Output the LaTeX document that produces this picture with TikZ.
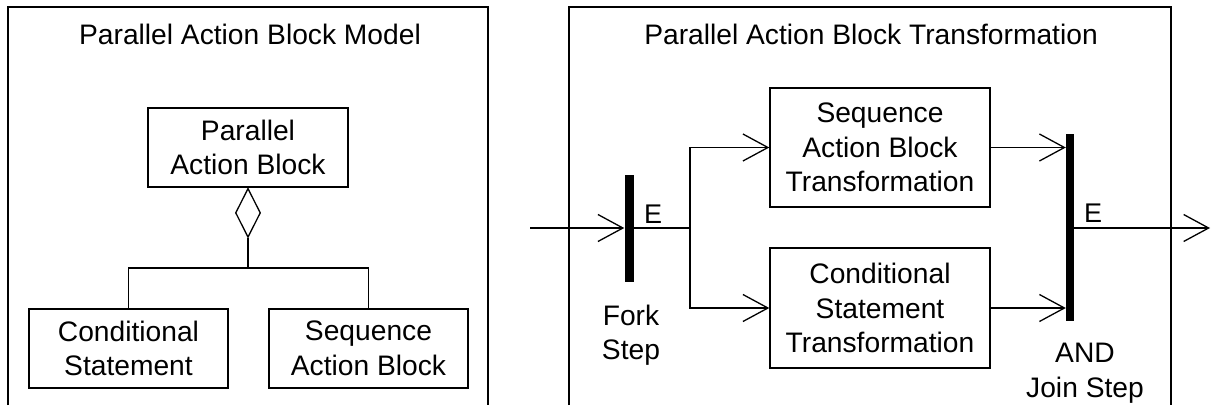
\documentclass[tikz,border=0pt]{standalone}
\usepackage{fontspec}
\setmainfont{Liberation Sans}
\usetikzlibrary{arrows.meta,shapes.geometric}
\tikzset{
  txt/.style={font=\fontsize{28.2}{34.5}\selectfont, align=center, text=black},
  box/.style={draw, line width=1.4pt, inner sep=0pt, txt},
  frame/.style={draw, line width=1.4pt},
  conn/.style={line width=1.3pt},
  arr/.style={conn, -{Straight Barb[length=25pt,width=27pt]}},
  bar/.style={fill=black, inner sep=0pt},
  elabel/.style={font=\fontsize{27}{30}\selectfont, text=black},
}
\begin{document}
\begin{tikzpicture}[x=1pt,y=-1pt]
\useasboundingbox (0,0) rectangle (1211,405);
% frames
\draw[frame] (8,405) -- (8,7) -- (488,7) -- (488,405);
\draw[frame] (569,405) -- (569,7) -- (1171,7) -- (1171,405);
\node[txt] (t1) at (250,34) {Parallel Action Block Model};
\node[txt] (t2) at (871,34) {Parallel Action Block Transformation};
% left model
\node[box, minimum width=200pt, minimum height=79pt] (pab) at (248,147.5) {Parallel\\Action Block};
\node[draw, diamond, line width=1.3pt, aspect=0.5, minimum width=25pt, minimum height=49pt, inner sep=0pt, anchor=north] (dia) at (pab.south) {};
\node[box, minimum width=199pt, minimum height=79pt] (cond) at (128.5,348.5) {Conditional\\Statement};
\node[box, minimum width=199pt, minimum height=79pt] (seq) at (368.5,348.5) {Sequence\\Action Block};
\coordinate (bus) at (248,268);
\draw[conn] (dia.south) -- (bus);
\draw[conn] (cond.north) -- (cond.north |- bus) -- (seq.north |- bus) -- (seq.north);
% right transformation
\node[box, minimum width=220pt, minimum height=119pt] (sabt) at (880,147.5) {Sequence\\Action Block\\Transformation};
\node[box, minimum width=220pt, minimum height=120pt] (cst) at (880,308) {Conditional\\Statement\\Transformation};
\node[bar, minimum width=9pt, minimum height=107pt] (fork) at (629,228) {};
\node[bar, minimum width=8pt, minimum height=187pt] (join) at (1070,227.5) {};
\node[elabel] (e1) at (653,214) {E};
\node[elabel] (e2) at (1093,213) {E};
\node[txt] (forkl) at (631,335) {Fork\\Step};
\node[txt] (joinl) at (1085,373) {AND\\Join Step};
\coordinate (in) at (530,228);
\coordinate (split) at (690,228);
\coordinate (out) at (1210,228);
\draw[arr] (in) -- (fork.west |- in);
\draw[conn] (fork.east |- in) -- (split);
\draw[arr] (split) |- (sabt.west);
\draw[arr] (split) |- (cst.west);
\draw[arr] (sabt.east) -- (join.west |- sabt.east);
\draw[arr] (cst.east) -- (join.west |- cst.east);
\draw[arr] (join.east |- out) -- (out);
\end{tikzpicture}
\end{document}
